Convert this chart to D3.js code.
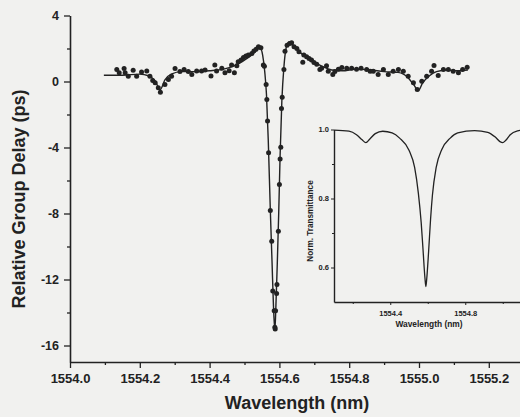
<!DOCTYPE html>
<html>
<head>
<meta charset="utf-8">
<script src="https://cdn.jsdelivr.net/npm/d3@7"></script>
<style>
  body { margin: 0; background: #f1f1ef; }
  svg { display: block; font-family: "Liberation Sans", Arial, sans-serif; }
  .axis path, .axis line { stroke: #222; }
  .axis text { fill: #222; font-weight: bold; }
</style>
</head>
<body>
<div id="chart"></div>
<script>
// measured group delay (dots)
var measWl = [1554.134, 1554.141, 1554.155, 1554.158, 1554.167, 1554.181, 1554.191, 1554.205, 1554.220, 1554.229,
  1554.237, 1554.244, 1554.253, 1554.259, 1554.272, 1554.282, 1554.291, 1554.301, 1554.315, 1554.327,
  1554.339, 1554.349, 1554.363, 1554.377, 1554.387, 1554.404, 1554.415, 1554.420, 1554.435, 1554.444,
  1554.456, 1554.463, 1554.471, 1554.478, 1554.482, 1554.490, 1554.497, 1554.504, 1554.511, 1554.521,
  1554.527, 1554.533, 1554.540, 1554.547, 1554.554, 1554.557, 1554.562, 1554.564, 1554.566, 1554.569,
  1554.574, 1554.578, 1554.581, 1554.585, 1554.587, 1554.588, 1554.589, 1554.592, 1554.593, 1554.597,
  1554.600, 1554.602, 1554.604, 1554.606, 1554.608, 1554.613, 1554.616, 1554.622, 1554.630, 1554.635,
  1554.642, 1554.650, 1554.656, 1554.667, 1554.670, 1554.678, 1554.685, 1554.692, 1554.699, 1554.707,
  1554.716, 1554.721, 1554.735, 1554.740, 1554.753, 1554.759, 1554.769, 1554.779, 1554.793, 1554.807,
  1554.821, 1554.834, 1554.850, 1554.860, 1554.869, 1554.883, 1554.898, 1554.912, 1554.926, 1554.941,
  1554.955, 1554.969, 1554.984, 1554.995, 1555.008, 1555.022, 1555.036, 1555.043, 1555.055, 1555.070,
  1555.084, 1555.098, 1555.113, 1555.125, 1555.138]
var measDelay = [0.73, 0.53, 0.79, 0.53, 0.32, 0.68, 0.32, 0.57, 0.63, 0.32,
  0.06, -0.08, -0.38, -0.65, -0.18, 0.12, 0.32, 0.79, 0.60, 0.73,
  0.60, 0.42, 0.63, 0.63, 0.70, 0.33, 1.00, 0.63, 0.80, 0.53,
  0.65, 1.00, 0.53, 0.95, 1.20, 1.30, 1.45, 1.55, 1.60, 1.70,
  1.85, 1.95, 2.10, 2.05, 1.00, 0.93, -0.18, -1.09, -2.40, -4.32,
  -7.82, -9.68, -12.7, -13.9, -14.9, -15.0, -13.9, -12.85, -12.3, -9.07,
  -6.24, -4.70, -3.98, -1.64, -0.95, 0.73, 1.84, 2.20, 2.30, 2.35,
  2.10, 2.00, 1.80, 1.17, 1.60, 1.50, 1.40, 1.30, 1.15, 1.05,
  0.73, 0.80, 0.95, 0.62, 0.42, 0.60, 0.75, 0.85, 0.80, 0.80,
  0.75, 0.80, 0.73, 0.62, 0.62, 0.42, 0.73, 0.42, 0.62, 0.73,
  0.62, 0.32, -0.08, -0.48, 0.02, 0.32, 0.62, 0.97, 0.36, 0.73,
  0.73, 0.62, 0.53, 0.73, 0.87]

// fitted group delay (line)
var fitWl = [1554.097, 1554.15, 1554.20, 1554.225, 1554.245, 1554.258, 1554.272, 1554.29, 1554.32, 1554.36,
  1554.40, 1554.44, 1554.47, 1554.50, 1554.52, 1554.535, 1554.545, 1554.552, 1554.558, 1554.563,
  1554.568, 1554.574, 1554.579, 1554.583, 1554.587, 1554.590, 1554.594, 1554.598, 1554.602, 1554.607,
  1554.613, 1554.619, 1554.627, 1554.64, 1554.66, 1554.69, 1554.72, 1554.75, 1554.78, 1554.82,
  1554.86, 1554.90, 1554.94, 1554.97, 1554.985, 1554.998, 1555.01, 1555.03, 1555.05, 1555.08,
  1555.11, 1555.14]
var fitDelay = [0.38, 0.38, 0.45, 0.35, 0.0, -0.5, 0.1, 0.45, 0.6, 0.6,
  0.65, 0.75, 0.95, 1.3, 1.6, 1.9, 2.05, 1.6, 0.6, -0.8,
  -3.5, -7.8, -11, -13.6, -15.1, -13.6, -11, -8, -4.5, -1.2,
  0.9, 2.0, 2.4, 2.2, 1.75, 1.3, 0.95, 0.7, 0.65, 0.75,
  0.7, 0.6, 0.55, 0.2, -0.2, -0.55, -0.1, 0.35, 0.6, 0.7,
  0.65, 0.7]

// inset: normalized transmittance
var transWl = [1554.10, 1554.18, 1554.22, 1554.25, 1554.27, 1554.29, 1554.32, 1554.36, 1554.41, 1554.45,
  1554.50, 1554.53, 1554.55, 1554.565, 1554.575, 1554.585, 1554.59, 1554.595, 1554.605, 1554.615,
  1554.625, 1554.645, 1554.675, 1554.72, 1554.76, 1554.85, 1554.92, 1554.96, 1554.985, 1555.00,
  1555.015, 1555.04, 1555.08, 1555.10]
var transVal = [0.998, 0.995, 0.985, 0.970, 0.962, 0.972, 0.988, 0.995, 0.990, 0.975,
  0.940, 0.890, 0.815, 0.730, 0.650, 0.570, 0.545, 0.570, 0.650, 0.740,
  0.810, 0.890, 0.942, 0.975, 0.990, 0.997, 0.992, 0.978, 0.965, 0.962,
  0.968, 0.985, 0.996, 0.998]

var xMajor = [1554.0, 1554.2, 1554.4, 1554.6, 1554.8, 1555.0, 1555.2]
var xMinor = [1554.1, 1554.3, 1554.5, 1554.7, 1554.9, 1555.1]
var yMajor = [4, 0, -4, -8, -12, -16]
var yMinor = [2, -2, -6, -10, -14]
var insetXMajor = [1554.4, 1554.8]
var insetXMinor = [1554.2, 1554.6, 1555.0]
var insetYMajor = [1.0, 0.8, 0.6]
var insetYMinor = [0.9, 0.7]

var width = 520, height = 417
var ink = "#222"

var svg = d3.select("#chart").append("svg")
    .attr("width", width)
    .attr("height", height)

var x = d3.scaleLinear().domain([1554.0, 1555.3]).range([70, 523.7])
var y = d3.scaleLinear().domain([-17, 4]).range([362, 15.5])

// main axes
var gx = svg.append("g").attr("class", "axis").attr("transform", "translate(0,362)")
gx.call(d3.axisBottom(x).tickValues(xMajor).tickSize(6).tickSizeOuter(0).tickFormat(d3.format(".1f")))
gx.call(g => g.selectAll("text").style("font-size", "13px").attr("dy", "0.9em"))
svg.append("g").attr("class", "axis").attr("transform", "translate(0,362)")
    .call(d3.axisBottom(x).tickValues(xMinor).tickSize(3).tickFormat(""))
    .call(g => g.select(".domain").remove())

var gy = svg.append("g").attr("class", "axis").attr("transform", "translate(70,0)")
gy.call(d3.axisLeft(y).tickValues(yMajor).tickSize(6).tickSizeOuter(0).tickFormat(d => String(d)))
gy.call(g => g.selectAll("text").style("font-size", "12.5px").attr("x", -11))
svg.append("g").attr("class", "axis").attr("transform", "translate(70,0)")
    .call(d3.axisLeft(y).tickValues(yMinor).tickSize(3).tickFormat(""))
    .call(g => g.select(".domain").remove())

svg.selectAll(".axis .domain").attr("stroke-width", 1.6)
svg.selectAll(".axis line").attr("stroke-width", 1.3)

svg.append("text")
    .attr("x", 297).attr("y", 409)
    .attr("text-anchor", "middle")
    .style("font-size", "18px").style("font-weight", "bold").attr("fill", ink)
    .text("Wavelength (nm)")

svg.append("text")
    .attr("transform", "translate(25,199) rotate(-90)")
    .attr("text-anchor", "middle")
    .style("font-size", "18px").style("font-weight", "bold").attr("fill", ink)
    .text("Relative Group Delay (ps)")

// fit line and measured dots
var fit = fitWl.map((w, i) => [w, fitDelay[i]])
svg.append("path")
    .datum(fit)
    .attr("fill", "none")
    .attr("stroke", ink)
    .attr("stroke-width", 1.4)
    .attr("d", d3.line().x(d => x(d[0])).y(d => y(d[1])).curve(d3.curveMonotoneX))

var meas = measWl.map((w, i) => [w, measDelay[i]])
svg.append("g")
    .selectAll("circle")
    .data(meas)
    .enter()
    .append("circle")
    .attr("cx", d => x(d[0]))
    .attr("cy", d => y(d[1]))
    .attr("r", 2.5)
    .attr("fill", ink)

// inset
var xi = d3.scaleLinear().domain([1554.1, 1555.1]).range([334, 521.5])
var yi = d3.scaleLinear().domain([0.5, 1.0]).range([302, 129.5])

var inset = svg.append("g")
var ix = inset.append("g").attr("class", "axis").attr("transform", "translate(0,302)")
ix.call(d3.axisBottom(xi).tickValues(insetXMajor).tickSize(3).tickSizeOuter(0).tickFormat(d3.format(".1f")))
ix.call(g => g.selectAll("text").style("font-size", "7.5px").attr("dy", "1em"))
inset.append("g").attr("class", "axis").attr("transform", "translate(0,302)")
    .call(d3.axisBottom(xi).tickValues(insetXMinor).tickSize(2).tickFormat(""))
    .call(g => g.select(".domain").remove())

var iy = inset.append("g").attr("class", "axis").attr("transform", "translate(334,0)")
iy.call(d3.axisLeft(yi).tickValues(insetYMajor).tickSize(3).tickSizeOuter(0).tickFormat(d3.format(".1f")))
iy.call(g => g.selectAll("text").style("font-size", "7.5px").attr("x", -5))
inset.append("g").attr("class", "axis").attr("transform", "translate(334,0)")
    .call(d3.axisLeft(yi).tickValues(insetYMinor).tickSize(2).tickFormat(""))
    .call(g => g.select(".domain").remove())

inset.selectAll(".axis .domain").attr("stroke-width", 1.4)

inset.append("text")
    .attr("x", 429).attr("y", 327)
    .attr("text-anchor", "middle")
    .style("font-size", "8.4px").style("font-weight", "bold").attr("fill", ink)
    .text("Wavelength (nm)")

inset.append("text")
    .attr("transform", "translate(313,221) rotate(-90)")
    .attr("text-anchor", "middle")
    .style("font-size", "8.2px").style("font-weight", "bold").attr("fill", ink)
    .text("Norm. Transmittance")

var trans = transWl.map((w, i) => [w, transVal[i]])
inset.append("path")
    .datum(trans)
    .attr("fill", "none")
    .attr("stroke", ink)
    .attr("stroke-width", 1.3)
    .attr("d", d3.line().x(d => xi(d[0])).y(d => yi(d[1])).curve(d3.curveMonotoneX))
</script>
</body>
</html>
